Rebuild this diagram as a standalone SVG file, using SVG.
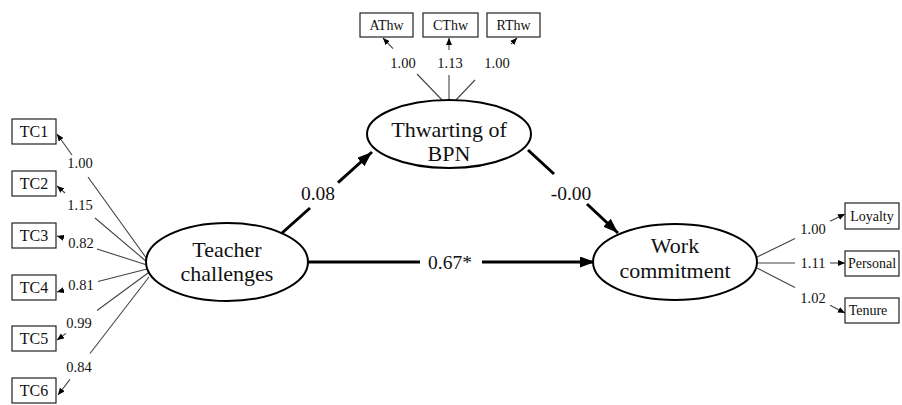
<svg xmlns="http://www.w3.org/2000/svg" width="902" height="405" viewBox="0 0 902 405" font-family="'Liberation Serif', 'DejaVu Serif', serif">
<style>
text{font-family:'Liberation Serif','DejaVu Serif',serif;fill:#111}
.box{fill:#fff;stroke:#222;stroke-width:1.2}
.lat{fill:#fff;stroke:#000;stroke-width:2}
.lt{font-size:22px;text-anchor:middle}
.bt{font-size:14px;text-anchor:middle}
.tc{font-size:16px;text-anchor:middle}
.ld{font-size:14.5px;text-anchor:middle}
.pl{font-size:19.5px;text-anchor:middle}
.thin{stroke:#444;stroke-width:1.1;fill:none}
.thick{stroke:#000;stroke-width:3;fill:none}
</style>
<defs>
<marker id="ah" markerUnits="userSpaceOnUse" markerWidth="7" markerHeight="6" refX="7" refY="3" orient="auto"><path d="M0,0 L7,3 L0,6 z" fill="#000"/></marker>
<marker id="AH" markerUnits="userSpaceOnUse" markerWidth="15" markerHeight="11" refX="15" refY="5.5" orient="auto"><path d="M0,0 L15,5.5 L0,11 z" fill="#000"/></marker>
</defs>
<g id="connectors">
<line class="thin" x1="147" y1="259" x2="88" y2="177"/><line class="thin" x1="72" y1="155" x2="57" y2="134" marker-end="url(#ah)"/>
<line class="thin" x1="147" y1="262" x2="95" y2="218"/><line class="thin" x1="65" y1="193" x2="57" y2="186" marker-end="url(#ah)"/>
<line class="thin" x1="147" y1="265" x2="97" y2="249"/><line class="thin" x1="64" y1="238" x2="57" y2="236" marker-end="url(#ah)"/>
<line class="thin" x1="147" y1="269" x2="98" y2="281.5"/><line class="thin" x1="64" y1="290" x2="57" y2="292" marker-end="url(#ah)"/>
<line class="thin" x1="148" y1="273" x2="97" y2="310.5"/><line class="thin" x1="66" y1="333.4" x2="57" y2="340" marker-end="url(#ah)"/>
<line class="thin" x1="149" y1="277" x2="90" y2="353.5"/><line class="thin" x1="70" y1="379.4" x2="58" y2="395" marker-end="url(#ah)"/>
<line class="thin" x1="443" y1="101" x2="417" y2="74"/><line class="thin" x1="393" y1="48.7" x2="383" y2="38" marker-end="url(#ah)"/>
<line class="thin" x1="449" y1="101" x2="449" y2="75"/><line class="thin" x1="449" y1="50" x2="449" y2="38" marker-end="url(#ah)"/>
<line class="thin" x1="455" y1="101" x2="475" y2="80"/><line class="thin" x1="511" y1="44.2" x2="517" y2="38" marker-end="url(#ah)"/>
<line class="thin" x1="757" y1="257" x2="795" y2="238.4"/><line class="thin" x1="830" y1="221.3" x2="845" y2="214" marker-end="url(#ah)"/>
<line class="thin" x1="757" y1="263" x2="795" y2="263"/><line class="thin" x1="830" y1="263" x2="845" y2="263" marker-end="url(#ah)"/>
<line class="thin" x1="757" y1="268" x2="795" y2="287.4"/><line class="thin" x1="830" y1="305.3" x2="845" y2="313" marker-end="url(#ah)"/>
<line class="thick" x1="282" y1="233" x2="310" y2="208"/><line class="thick" x1="338" y1="182.6" x2="372" y2="152" marker-end="url(#AH)"/>
<line class="thick" x1="528" y1="150" x2="554" y2="174"/><line class="thick" x1="587" y1="204" x2="618" y2="233" marker-end="url(#AH)"/>
<line class="thick" x1="308" y1="262" x2="420" y2="262"/><line class="thick" x1="482" y1="262" x2="595" y2="262" marker-end="url(#AH)"/>
<text class="ld" x="80" y="168">1.00</text>
<text class="ld" x="80" y="210">1.15</text>
<text class="ld" x="81" y="248">0.82</text>
<text class="ld" x="81" y="290">0.81</text>
<text class="ld" x="79" y="328">0.99</text>
<text class="ld" x="79" y="372">0.84</text>
<text class="ld" x="403" y="68">1.00</text>
<text class="ld" x="450" y="68">1.13</text>
<text class="ld" x="497" y="68">1.00</text>
<text class="ld" x="813" y="234">1.00</text>
<text class="ld" x="813" y="268">1.11</text>
<text class="ld" x="813" y="303">1.02</text>
<text class="pl" x="318" y="200">0.08</text>
<text class="pl" x="571" y="200">-0.00</text>
<text class="pl" x="450" y="269">0.67*</text>
</g>
<g id="tc1"><rect class="box" x="12" y="119" width="44" height="25"/><text class="tc" x="34" y="137">TC1</text></g>
<g id="tc2"><rect class="box" x="12" y="171" width="44" height="25"/><text class="tc" x="34" y="189">TC2</text></g>
<g id="tc3"><rect class="box" x="12" y="223" width="44" height="25"/><text class="tc" x="34" y="241">TC3</text></g>
<g id="tc4"><rect class="box" x="12" y="275" width="44" height="25"/><text class="tc" x="34" y="293">TC4</text></g>
<g id="tc5"><rect class="box" x="12" y="326" width="44" height="25"/><text class="tc" x="34" y="344">TC5</text></g>
<g id="tc6"><rect class="box" x="12" y="378" width="44" height="25"/><text class="tc" x="34" y="396">TC6</text></g>
<g id="athw"><rect class="box" x="360" y="13" width="53" height="24"/><text class="bt" x="386.5" y="30">AThw</text></g>
<g id="cthw"><rect class="box" x="423" y="13" width="55" height="24"/><text class="bt" x="450.5" y="30">CThw</text></g>
<g id="rthw"><rect class="box" x="487" y="13" width="53" height="24"/><text class="bt" x="513.5" y="30">RThw</text></g>
<g id="loyalty"><rect class="box" x="845" y="203" width="54" height="26"/><text class="bt" x="872" y="221">Loyalty</text></g>
<g id="personal"><rect class="box" x="845" y="251" width="54" height="25"/><text class="bt" x="872" y="268">Personal</text></g>
<g id="tenure"><rect class="box" x="845" y="298" width="54" height="25"/><text class="bt" x="868" y="315">Tenure</text></g>
<g id="teacher"><ellipse class="lat" cx="227" cy="262" rx="81" ry="39"/><text class="lt" x="227" y="257">Teacher</text><text class="lt" x="227" y="281">challenges</text></g>
<g id="thwarting"><ellipse class="lat" cx="449" cy="134" rx="82" ry="34"/><text class="lt" x="449" y="137">Thwarting of</text><text class="lt" x="449" y="161">BPN</text></g>
<g id="work"><ellipse class="lat" cx="675" cy="262" rx="82" ry="38"/><text class="lt" x="675" y="253">Work</text><text class="lt" x="675" y="278">commitment</text></g>
</svg>
